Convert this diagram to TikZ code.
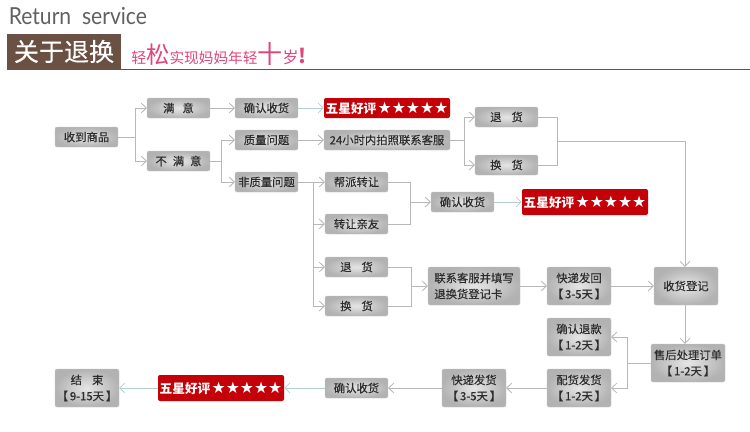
\documentclass[tikz,border=0pt]{standalone}
\usepackage{graphicx}
\usepackage{fontspec}
\setmainfont{Noto Sans CJK SC}
\newfontfamily\boxfont[FakeBold=0.25]{Noto Sans CJK SC}
\newfontfamily\starfont{DejaVu Sans}
\newfontfamily\latinfont{Lato}
\usetikzlibrary{arrows.meta}
\definecolor{brownbar}{HTML}{6B5044}
\definecolor{pinktext}{HTML}{E0457B}
\definecolor{redbox}{HTML}{C40008}
\definecolor{linegray}{HTML}{B8B8B8}
\definecolor{linecyan}{HTML}{B4CFCF}
\definecolor{boxtext}{HTML}{2C2C2C}
\tikzset{
  x=0.75pt,y=-0.75pt,
  graybox/.style={rounded corners=1.5pt,inner sep=0pt,align=center,text=boxtext,
    inner color=black!10,outer color=black!30,draw=black!22,line width=0.3pt,
    font=\boxfont\fontsize{8.5pt}{12pt}\selectfont},
  redstar/.style={rounded corners=1.5pt,inner sep=0pt,fill=redbox,text=white,
    font=\fontsize{9.5pt}{12pt}\bfseries\selectfont},
  flow/.style={draw=linegray,line width=0.75pt},
  arrowflow/.style={flow,-{Straight Barb[length=3.8pt,width=7.5pt,line width=0.6pt]}},
  pale/.style={draw=linecyan},
}
\newcommand{\bx}[7][graybox]{%
  \node[#1,minimum width=#5*0.75pt-#3*0.75pt,minimum height=#6*0.75pt-#4*0.75pt] (#2) at ({(#3+#5)/2},{(#4+#6)/2}) {#7};}
\newcommand{\fivestar}{五星好评\hspace{1pt}{\starfont\fontsize{11.8pt}{12pt}\selectfont ★★★★★}}
\newcommand{\sz}[1]{\fontsize{#1pt}{#1pt}\selectfont}
\begin{document}
\begin{tikzpicture}
\useasboundingbox (0,0) rectangle (750,432);
\fill[white] (0,0) rectangle (750,432);
% header
\node[anchor=base west,inner sep=0pt,text=black!62,font=\latinfont\sz{17.6}] (title) at (8.5,25) {\scalebox{0.9}[1]{Return\hspace{9pt}service}};
\node[fill=brownbar,text=white,inner sep=0pt,minimum width=85.5pt,minimum height=26.25pt,font=\boxfont\fontsize{18.8pt}{20pt}\selectfont] (banner) at (64,51.5) {关于退换};
\coordinate (ruleL) at (7,69.5);
\coordinate (ruleR) at (750,69.5);
\draw[brownbar,line width=0.75pt] (ruleL) -- (ruleR);
\node[anchor=base west,inner sep=0pt,text=pinktext] (slogan) at (131,63) {\sz{11.2}轻\sz{17.5}松\sz{11}实现妈妈年轻\sz{18.8}十\sz{12}岁\sz{15}\bfseries !};
% boxes
\bx{recv}{55}{127}{118}{147}{收到商品}
\bx{sat}{147}{98}{210}{118}{满\hspace{6pt}意}
\bx{unsat}{147}{151}{210}{171}{不\hspace{4.5pt}满\hspace{4.5pt}意}
\bx{conf}{235}{98}{298}{118}{确认收货}
\bx{qual}{235}{130}{298}{150}{质量问题}
\bx{nonq}{235}{172}{298}{192}{非质量问题}
\bx[redstar]{star}{324}{98}{450}{118}{\fivestar}
\bx{svc}{324}{130}{450}{150}{24小时内拍照联系客服}
\bx{ret}{475}{107}{538}{127}{退\hspace{7.5pt}货}
\bx{exc}{475}{155}{538}{175}{换\hspace{7.5pt}货}
\bx{help}{325}{172}{388}{192}{帮派转让}
\bx{friend}{325}{214}{388}{234}{转让亲友}
\bx{confb}{431}{192}{494}{212}{确认收货}
\bx[redstar]{starb}{522}{189}{648}{215}{\fivestar}
\bx{retb}{325}{257}{388}{277}{退\hspace{7.5pt}货}
\bx{excb}{325}{296}{388}{316}{换\hspace{7.5pt}货}
\node[graybox,minimum width=69pt,minimum height=28.5pt,align=left] (card) at (474,286) {联系客服并填写\\退换货登记卡\hspace{8.5pt}};
\bx{back}{547}{267}{611}{305}{快递发回\\【\,3-5天\,】}
\bx{reg}{654}{267}{718}{305}{收货登记}
\bx{refund}{547}{318}{611}{356}{确认退款\\【\,1-2天\,】}
\bx{after}{651}{344}{725}{382}{售后处理订单\\【\,1-2天\,】}
\bx{pick}{547}{369}{611}{407}{配货发货\\【\,1-2天\,】}
\bx{ship}{442}{369}{506}{407}{快递发货\\【\,3-5天\,】}
\bx{confc}{325}{378}{388}{398}{确认收货}
\bx[redstar]{starc}{158}{375}{284}{401}{\fivestar}
\bx{finish}{55}{369}{119}{407}{结\hspace{7.5pt}束\\【\,9-15天\,】}
% junctions
\coordinate (j1) at (135,137);
\coordinate (j2) at (221,161);
\coordinate (j3) at (313,182);
\coordinate (j4) at (410,202);
\coordinate (j5) at (464,140);
\coordinate (j6) at (557,141);
\coordinate (j7) at (411,286);
\coordinate (j8) at (685,141);
\coordinate (j9) at (627,363);
% connectors
\draw[flow] (recv.east) -- (j1);
\draw[arrowflow] (j1) |- (sat.west);
\draw[arrowflow] (j1) |- (unsat.west);
\draw[arrowflow] (sat.east) -- (conf.west);
\draw[arrowflow,pale] (conf.east) -- (star.west);
\draw[flow] (unsat.east) -- (j2);
\draw[arrowflow] (j2) |- (qual.west);
\draw[arrowflow] (j2) |- (nonq.west);
\draw[arrowflow] (qual.east) -- (svc.west);
\draw[flow] (svc.east) -- (j5);
\draw[arrowflow] (j5) |- (ret.west);
\draw[arrowflow] (j5) |- (exc.west);
\draw[flow] (ret.east) -| (j6);
\draw[flow] (exc.east) -| (j6);
\draw[arrowflow] (j6) -- (j8) -- (reg.north -| j8);
\draw[flow] (nonq.east) -- (j3);
\draw[arrowflow] (j3) -- (help.west);
\draw[arrowflow] (j3) |- (friend.west);
\draw[arrowflow] (j3) |- (retb.west);
\draw[arrowflow] (j3) |- (excb.west);
\draw[flow] (help.east) -| (j4);
\draw[flow] (friend.east) -| (j4);
\draw[arrowflow] (j4) -- (confb.west);
\draw[arrowflow,pale] (confb.east) -- (starb.west);
\draw[flow] (retb.east) -| (j7);
\draw[flow] (excb.east) -| (j7);
\draw[arrowflow] (j7) -- (card.west);
\draw[arrowflow] (card.east) -- (back.west);
\draw[arrowflow] (back.east) -- (reg.west);
\draw[arrowflow] (reg.south -| j8) -- (after.north -| j8);
\draw[flow] (after.west |- j9) -- (j9);
\draw[arrowflow] (j9) |- (refund.east);
\draw[arrowflow] (j9) |- (pick.east);
\draw[arrowflow] (pick.west) -- (ship.east);
\draw[arrowflow] (ship.west) -- (confc.east);
\draw[arrowflow,pale] (confc.west) -- (starc.east);
\draw[arrowflow,pale] (starc.west) -- (finish.east);
\end{tikzpicture}
\end{document}
